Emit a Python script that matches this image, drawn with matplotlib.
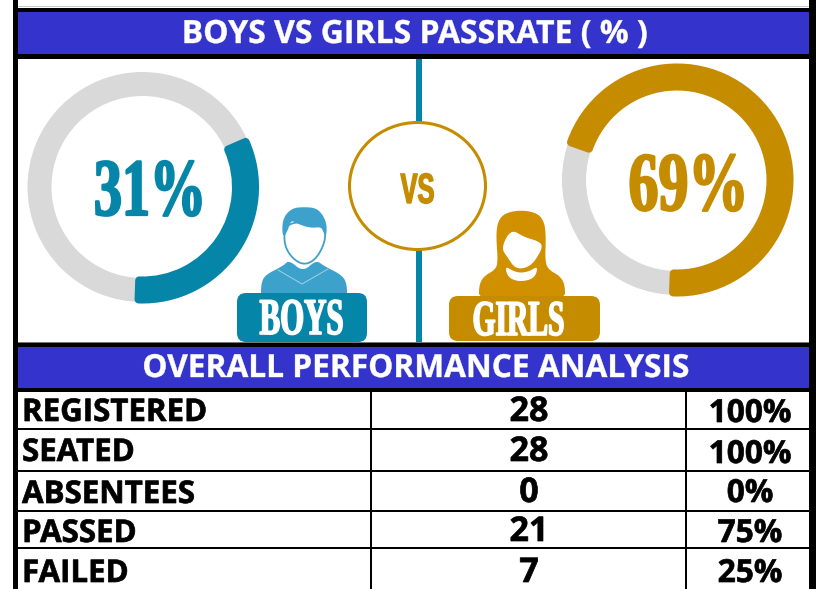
import matplotlib
matplotlib.use('Agg')
import matplotlib.pyplot as plt
from matplotlib.patches import Wedge, Ellipse, FancyBboxPatch, Polygon, Rectangle
from matplotlib.patheffects import AbstractPathEffect
from matplotlib.transforms import Affine2D
import numpy as np

title_top = 'BOYS VS GIRLS PASSRATE ( % )'
title_bottom = 'OVERALL PERFORMANCE ANALYSIS'
boys_rate = 31
girls_rate = 69
row_names = ['REGISTERED', 'SEATED', 'ABSENTEES', 'PASSED', 'FAILED']
row_counts = [28, 28, 0, 21, 7]
row_pcts = [100, 100, 0, 75, 25]

BLUE = '#3434cc'
TEAL = '#0585a8'
TEAL_LIGHT = '#3da2cb'
GOLD = '#c68c00'
GOLD_LIGHT = '#d09000'
GREY = '#d9d9d9'
SANS = 'Open Sans'
SERIF = 'Liberation Serif'


class Squeeze(AbstractPathEffect):
    # narrows and fattens the glyphs around x, the installed fonts have no heavy condensed face
    def __init__(self, x, sx=1.0, fat=0.0):
        super().__init__()
        self.x = x
        self.sx = sx
        self.fat = fat

    def draw_path(self, renderer, gc, tpath, affine, rgbFace=None):
        tr = affine + Affine2D().translate(-self.x, 0).scale(self.sx, 1).translate(self.x, 0)
        gc0 = renderer.new_gc()
        gc0.copy_properties(gc)
        if self.fat > 0:
            gc0.set_linewidth(self.fat)
            gc0.set_foreground(rgbFace)
        else:
            gc0.set_linewidth(0)
        renderer.draw_path(gc0, tpath, tr, rgbFace)
        gc0.restore()


def smooth(pts, n=3):
    # chaikin corner cutting, closed shape
    pts = np.array(pts, dtype=float)
    for _ in range(n):
        nxt = np.roll(pts, -1, axis=0)
        pts = np.column_stack([0.75 * pts + 0.25 * nxt, 0.25 * pts + 0.75 * nxt]).reshape(-1, 2)
    return pts


def blob(ax, pts, color, **kw):
    ax.add_patch(Polygon(smooth(pts), closed=True, facecolor=color, edgecolor=kw.pop('edgecolor', 'none'), **kw))


def hline(ax, y0, y1, color='black', x0=18, x1=809):
    ax.add_patch(Rectangle((x0, y0), x1 - x0, y1 - y0, facecolor=color, edgecolor='none'))


def ring(ax, cx, cy, pct, color):
    ax.add_patch(Wedge((cx, cy), 115, 0, 360, width=24, facecolor=GREY, edgecolor='none'))
    # y axis is flipped, so the arc runs up from the bottom going backwards in data angle
    cap = 2
    ax.add_patch(Wedge((cx, cy), 112.5, 90 - 3.6 * pct - cap, 90 + cap, width=19, facecolor=color,
                       edgecolor=color, linewidth=5.8, joinstyle='round'))


def narrow(ax, x, y, s, size, sx, color, family=SERIF, fat=0.0):
    t = ax.text(x, y, s, fontsize=size, color=color, family=family, fontweight='bold',
                ha='center', va='baseline')
    t.set_path_effects([Squeeze(x, sx, fat)])


def label(ax, x, y, s, size, color='black', ha='center', fat=0.5):
    t = ax.text(x, y, s, fontsize=size, family=SANS, fontweight='bold', color=color, ha=ha, va='baseline')
    t.set_path_effects([Squeeze(x, 1.0, fat)])


def boy_icon(ax):
    c = TEAL_LIGHT
    blob(ax, [(261, 300), (261, 284), (265, 275), (283, 266), (289, 260), (303, 272), (316, 260), (324, 266), (342, 275), (347, 284), (347, 300)], c)
    blob(ax, [(284, 232), (285, 247), (293, 259), (304, 265), (315, 260), (323, 247), (326, 234), (322, 222), (290, 222)], 'white',
         edgecolor=c, linewidth=1.3)
    ax.plot([278, 302, 328], [270, 284, 269], color='#9fd0e5', lw=0.7)
    blob(ax, [(283, 238), (282, 225), (285, 215), (293, 208), (304, 207), (316, 208), (323, 215), (327, 225), (326, 238), (323, 231), (321, 227), (310, 228), (298, 224), (291, 220), (288, 230)], c)


def girl_icon(ax):
    c = GOLD_LIGHT
    blob(ax, [(479, 301), (479, 285), (484, 276), (495, 270), (498, 262), (496, 235), (498, 221), (505, 213), (521, 210), (537, 213), (544, 221), (546, 235), (545, 262), (549, 270), (560, 276), (565, 285), (565, 301)], c)
    blob(ax, [(501, 248), (508, 258), (514, 267), (521, 269), (530, 266), (537, 258), (543, 246), (538, 241), (524, 237), (511, 229)], 'white')
    blob(ax, [(505, 266), (513, 271), (521, 273), (530, 271), (538, 266), (535, 278), (521, 282), (508, 278)], 'white')


fig = plt.figure(figsize=(8.22, 5.89), dpi=100)
ax = fig.add_axes([0, 0, 1, 1])
ax.set_xlim(0, 822)
ax.set_ylim(589, 0)
ax.axis('off')

# frame and header bands
hline(ax, 6, 7, '#c8c8c8')
hline(ax, 8, 59)
hline(ax, 12, 54, BLUE)
hline(ax, 342, 392)
hline(ax, 342, 343, '#777777')
hline(ax, 347, 388, BLUE)
ax.add_patch(Rectangle((13, 0), 5, 589, facecolor='black', edgecolor='none'))
ax.add_patch(Rectangle((809, 0), 7, 589, facecolor='black', edgecolor='none'))

label(ax, 415.5, 43, title_top, 23, color='white', fat=0.3)
label(ax, 416, 377, title_bottom, 22.8, color='white', fat=0.3)

# versus panel
ax.add_patch(Rectangle((416, 59), 6, 283, facecolor=TEAL, edgecolor='none'))
ax.add_patch(Ellipse((417.5, 186), 136, 127, facecolor='white', edgecolor=GOLD, linewidth=2.2))
narrow(ax, 417.5, 203, 'VS', 30.5, 0.6, GOLD, family='Liberation Sans', fat=1.0)

ring(ax, 142.5, 187, boys_rate, TEAL)
ring(ax, 677, 180, girls_rate, GOLD)
narrow(ax, 150, 215, f'{boys_rate}%', 58.5, 0.69, TEAL, fat=1.6)
narrow(ax, 688.5, 210, f'{girls_rate}%', 60, 0.72, GOLD, fat=1.6)

boy_icon(ax)
girl_icon(ax)
ax.add_patch(FancyBboxPatch((237, 293), 130, 49, boxstyle='round,pad=0,rounding_size=9', facecolor=TEAL, edgecolor='none'))
ax.add_patch(FancyBboxPatch((449, 296), 151, 45, boxstyle='round,pad=0,rounding_size=9', facecolor=GOLD, edgecolor='none'))
narrow(ax, 301.5, 334, 'BOYS', 37, 0.6, 'white', fat=1.2)
narrow(ax, 518.5, 335, 'GIRLS', 36, 0.59, 'white', fat=1.2)

# table
for y in [429, 471, 511, 548]:
    hline(ax, y - 1, y + 1)
for x in [371, 686]:
    ax.add_patch(Rectangle((x - 1, 392), 2, 197, facecolor='black', edgecolor='none'))

name_base = [421, 461, 503, 542, 582]
count_base = [421, 461, 502, 541, 582]
pct_base = [422, 463, 502, 542, 582]
for i, name in enumerate(row_names):
    label(ax, 22, name_base[i], name, 22.5, ha='left')
    label(ax, 529, count_base[i], str(row_counts[i]), 24.5)
    label(ax, 750, pct_base[i], f'{row_pcts[i]}%', 22.8)

fig.savefig('out.png', dpi=100, facecolor='white')
